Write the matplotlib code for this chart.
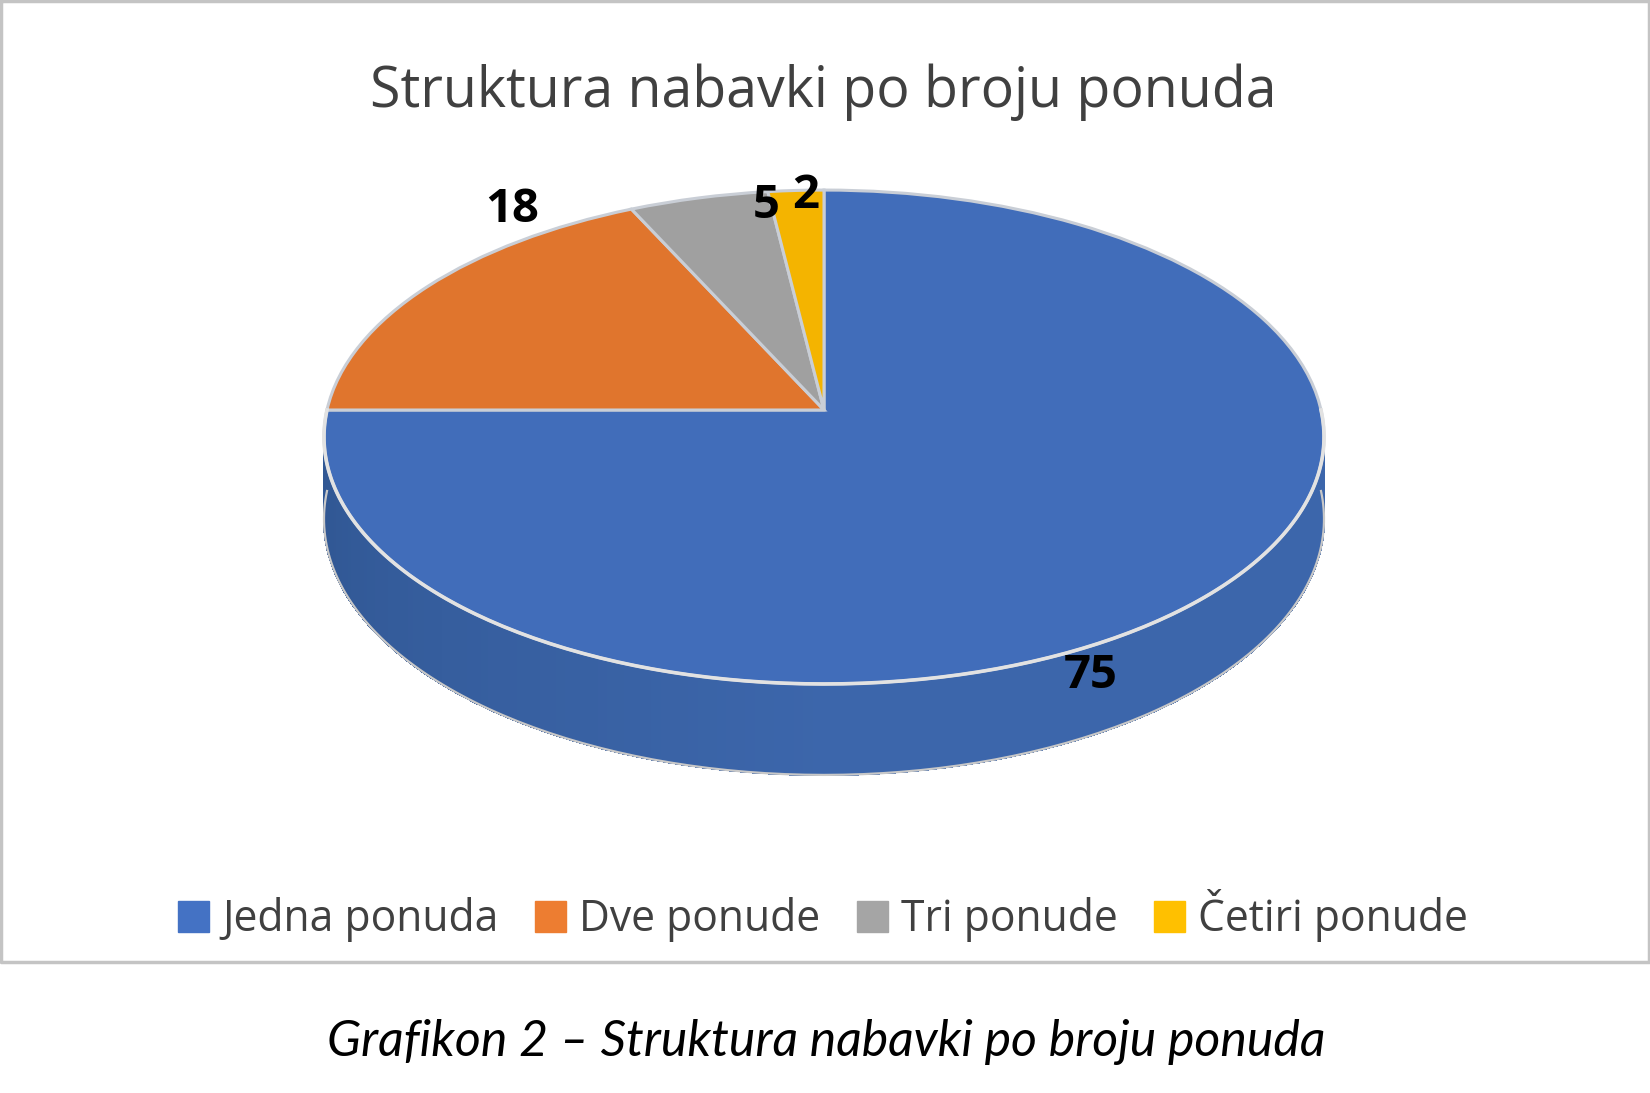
import numpy as np
import matplotlib
matplotlib.use("Agg")
import matplotlib.pyplot as plt
from matplotlib.transforms import Transform

categories = ["Jedna ponuda", "Dve ponude", "Tri ponude", "Četiri ponude"]
values = [75, 18, 5, 2]
colors = ["#416dba", "#e0752d", "#a0a0a0", "#f4b400"]
legend_colors = ["#4472c4", "#ed7d31", "#a5a5a5", "#ffc000"]

title = "Struktura nabavki po broju ponuda"
caption = "Grafikon 2 – Struktura nabavki po broju ponuda"

# izgled, sve u pikselima slike
CX, CY = 824, 410
RX, RY = 497, 244
K = 0.1094
DEPTH = 81
label_xy = [(1091, 676), (512, 210), (766, 205), (806, 196)]


class Perspektiva(Transform):
    # jedinicni krug -> elipsa sa perspektivom
    input_dims = 2
    output_dims = 2
    is_separable = False
    has_inverse = False

    def __init__(self, dy=0):
        super().__init__()
        self.dy = dy

    def transform_non_affine(self, xy):
        xy = np.asarray(xy, dtype=float)
        w = 1 + K * xy[:, 1]
        return np.column_stack([CX + RX * xy[:, 0] / w,
                                CY - RY * xy[:, 1] / w + self.dy / w])


fig = plt.figure(figsize=(16.5, 10.93), dpi=100)
ax = fig.add_axes([0, 0, 1, 1])

wedges, _ = ax.pie(values, colors=colors, startangle=90, counterclock=False,
                   wedgeprops={"edgecolor": "#c9ced6", "linewidth": 2.2})
ax.set_aspect("auto")
ax.set_xlim(0, 1650)
ax.set_ylim(1093, 0)
ax.axis("off")
for w in wedges:
    w.set_transform(Perspektiva() + ax.transData)
    w.set_zorder(3)

# bocna strana diska, traka po traka
p0 = Perspektiva()
p1 = Perspektiva(DEPTH)
ang = np.radians(np.linspace(180, 360, 181))
kruznica = np.column_stack([np.cos(ang), np.sin(ang)])
gornja = p0.transform(kruznica)
donja = p1.transform(kruznica)
r1 = np.array([0x2f, 0x55, 0x90]) / 255
r2 = np.array([0x3c, 0x66, 0xab]) / 255
for i in range(len(ang) - 1):
    t = min(1, i / 90)
    boja = r1 + (r2 - r1) * t
    ax.fill([gornja[i, 0], gornja[i + 1, 0], donja[i + 1, 0], donja[i, 0]],
            [gornja[i, 1], gornja[i + 1, 1], donja[i + 1, 1], donja[i, 1]],
            color=boja, lw=1, antialiased=False, zorder=1)
ax.plot(donja[:, 0], donja[:, 1], color="#c8c8c8", lw=1.6, zorder=2)
ax.plot(gornja[:, 0], gornja[:, 1], color="#e2e2e2", lw=2.6, zorder=4)

for val, (x, y) in zip(values, label_xy):
    ax.text(x, y, str(val), fontsize=34, fontweight="bold", family="Open Sans",
            color="black", ha="center", va="center", zorder=6)

ax.text(823, 92, title, fontsize=40, family="Open Sans", color="#404040",
        ha="center", va="center")
ax.text(826, 1042, caption, fontsize=36, family="Lato", style="italic",
        color="black", ha="center", va="center")

# okvir grafikona
ax.plot([1, 1649, 1649, 1, 1], [1, 1, 962, 962, 1], color="#c4c4c4", lw=2.5, zorder=0)

handles = [plt.Rectangle((0, 0), 1, 1, color=c) for c in legend_colors]
leg = ax.legend(handles, categories, ncol=4, loc="center", frameon=False,
                bbox_to_anchor=(823 / 1650, 1 - 916 / 1093), bbox_transform=fig.transFigure,
                prop={"family": "Open Sans", "size": 30.7}, labelcolor="#404040",
                handlelength=0.74, handleheight=0.74, handletextpad=0.3, columnspacing=0.85)

fig.savefig("out.png", dpi=100)
